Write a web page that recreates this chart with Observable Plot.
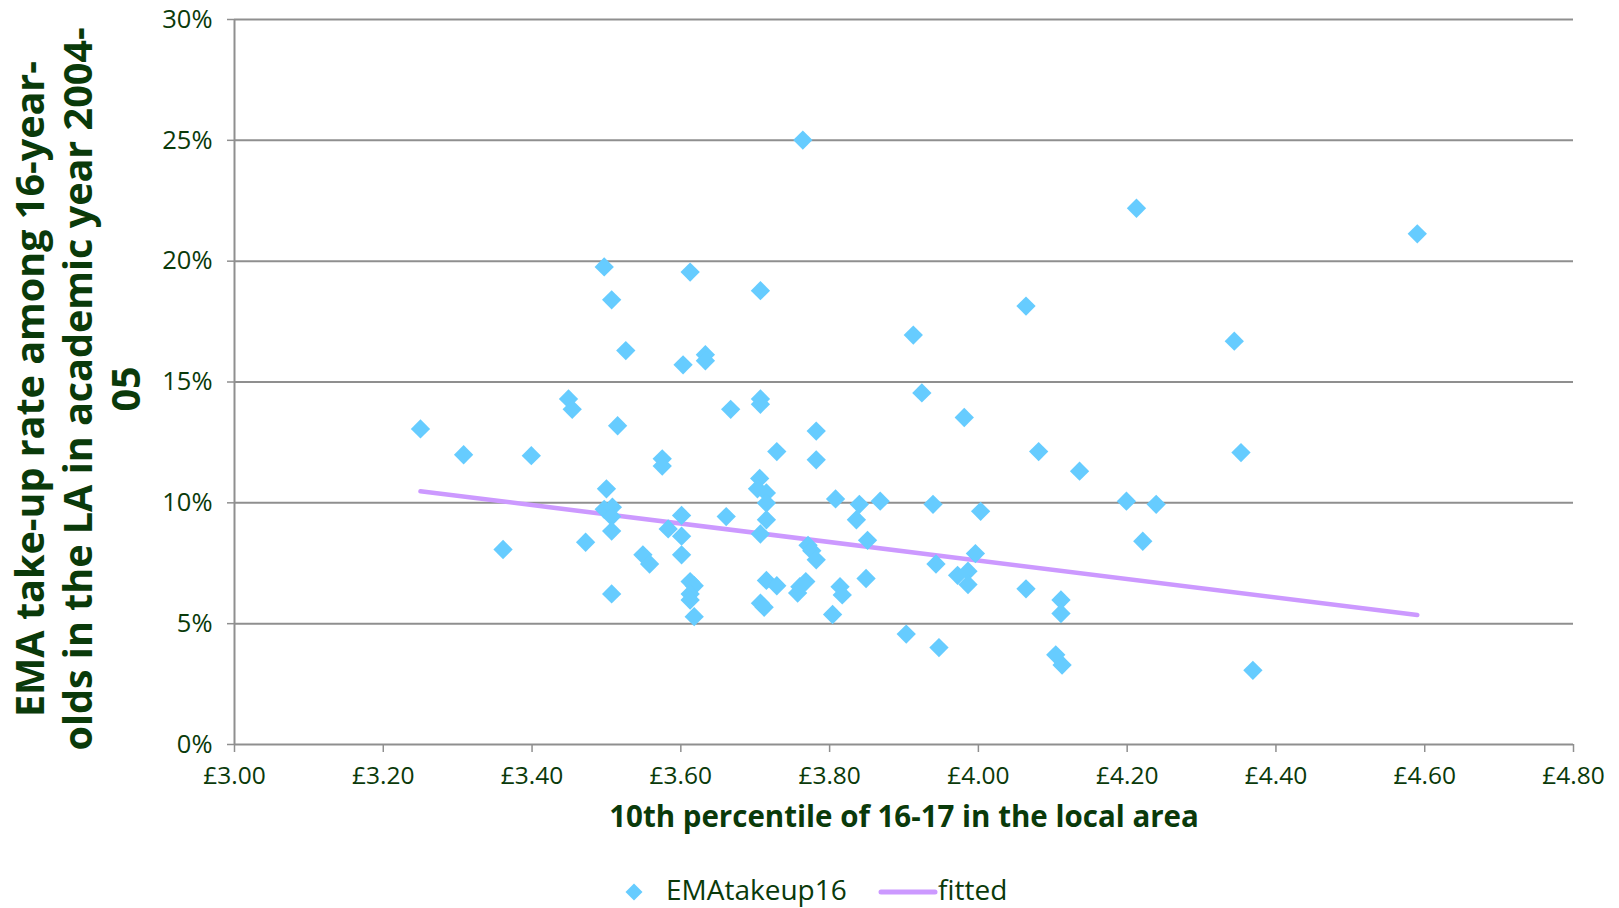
<!DOCTYPE html>
<html><head><meta charset="utf-8">
<script src="https://cdn.jsdelivr.net/npm/d3@7"></script>
<script src="https://cdn.jsdelivr.net/npm/@observablehq/plot@0.6"></script>
<style>
body{margin:0;background:#fff;}
#wrap{position:relative;width:1619px;height:908px;overflow:hidden;font-family:"Open Sans",sans-serif;color:#0a3a0a;}
#wrap svg{display:block;}
.leg{position:absolute;font-size:28px;line-height:1;white-space:nowrap;}
</style></head><body><div id="wrap"></div>
<script>
// x: 10th percentile wage of 16-17 in the local area (£)
const wage = [3.25,3.308,3.361,3.399,3.449,3.454,3.472,3.497,3.507,3.526,3.515,3.5,3.497,3.508,3.507,3.507,3.507,3.549,3.558,3.575,3.575,3.583,3.603,3.6125,3.633,3.633,3.601,3.601,3.601,3.6125,3.618,3.6125,3.6125,3.618,3.667,3.661,3.707,3.707,3.707,3.706,3.703,3.715,3.715,3.715,3.707,3.729,3.715,3.729,3.707,3.712,3.764,3.782,3.782,3.771,3.776,3.782,3.76,3.768,3.757,3.808,3.840,3.836,3.851,3.814,3.817,3.849,3.804,3.868,3.9125,3.924,3.939,3.943,3.903,3.947,3.981,3.996,4.003,3.972,3.986,3.986,4.064,4.081,4.064,4.136,4.111,4.111,4.104,4.1125,4.2125,4.199,4.239,4.221,4.344,4.353,4.369,4.590];
// y: EMA take-up rate (%)
const takeup = [13.06,11.99,8.07,11.95,14.30,13.87,8.37,19.76,18.40,16.30,13.19,10.58,9.73,9.82,9.43,8.83,6.23,7.85,7.47,11.82,11.52,8.92,15.71,19.55,16.13,15.88,9.48,8.62,7.85,6.74,6.57,6.23,5.98,5.29,13.87,9.43,18.78,14.30,14.08,11.01,10.58,10.41,9.99,9.30,8.71,12.12,6.79,6.57,5.85,5.68,25.01,12.97,11.78,8.24,8.02,7.64,6.53,6.74,6.27,10.16,9.94,9.30,8.45,6.53,6.19,6.87,5.38,10.07,16.94,14.55,9.94,7.47,4.57,4.01,13.53,7.90,9.65,7.0,7.17,6.62,18.14,12.12,6.44,11.31,5.98,5.42,3.71,3.29,22.19,10.07,9.94,8.41,16.69,12.08,3.07,21.13];
const fittedWage = [3.25, 4.59];
const fittedRate = [10.48, 5.36];
const xTicks = [3.0, 3.2, 3.4, 3.6, 3.8, 4.0, 4.2, 4.4, 4.6, 4.8];
const yTicks = [0, 5, 10, 15, 20, 25, 30];
const xTitle = "10th percentile of 16-17 in the local area";
const yTitle = "EMA take-up rate among 16-year-\nolds in the LA in academic year 2004-\n05";
const seriesNames = ["EMAtakeup16", "fitted"];

const points = wage.map((w, i) => ({x: w, y: takeup[i]}));
const fitted = fittedWage.map((w, i) => ({x: w, y: fittedRate[i]}));

const green = "#0a3a0a";
const gray = "#8f8f8f";
const blue = "#66CCFF";
const purple = "#CC99FF";

const chart = Plot.plot({
  width: 1619,
  height: 862,
  marginLeft: 234,
  marginRight: 46,
  marginTop: 19,
  marginBottom: 118,
  style: {fontFamily: '"Open Sans", sans-serif', background: "#fff", color: green},
  x: {domain: [3, 4.8], axis: null},
  y: {domain: [0, 30], axis: null},
  marks: [
    Plot.ruleY(yTicks, {stroke: gray, strokeWidth: 2}),
    Plot.ruleX([3], {stroke: gray, strokeWidth: 2}),
    Plot.axisY(yTicks, {tickFormat: d => d + "%", tickSize: 7, tickPadding: 15, fontSize: 25.5, stroke: gray, fill: green, label: null, strokeWidth: 1.5}),
    Plot.axisX(xTicks, {tickFormat: d => "£" + d.toFixed(2), tickSize: 8, tickPadding: 14, fontSize: 24.5, stroke: gray, fill: green, label: null, strokeWidth: 1.5}),
    Plot.line(fitted, {x: "x", y: "y", stroke: purple, strokeWidth: 4.5, strokeLinecap: "round"}),
    Plot.dot(points, {x: "x", y: "y", symbol: "diamond2", r: 8.7, fill: blue, stroke: "none"}),
    Plot.text([xTitle], {frameAnchor: "bottom", dy: 73, lineAnchor: "middle", fontSize: 29.5, fontWeight: "bold", fill: green}),
    Plot.text([yTitle], {frameAnchor: "left", dx: -158, dy: 7, rotate: -90, textAnchor: "middle", lineAnchor: "middle", lineHeight: 1.22, fontSize: 39.5, fontWeight: "bold", fill: green})
  ]
});

const wrap = document.getElementById("wrap");
wrap.appendChild(chart);

// legend below the chart
const leg = document.createElement("div");
leg.innerHTML = `
  <svg style="position:absolute;left:625px;top:883px" width="18" height="18"><path d="M9,0.5L17.5,9L9,17.5L0.5,9Z" fill="${blue}"/></svg>
  <span class="leg" style="left:666px;top:875px">${seriesNames[0]}</span>
  <svg style="position:absolute;left:878px;top:887px" width="60" height="10"><line x1="3" y1="5" x2="57" y2="5" stroke="${purple}" stroke-width="5" stroke-linecap="round"/></svg>
  <span class="leg" style="left:938px;top:875px">${seriesNames[1]}</span>`;
wrap.appendChild(leg);
</script>
</body></html>
